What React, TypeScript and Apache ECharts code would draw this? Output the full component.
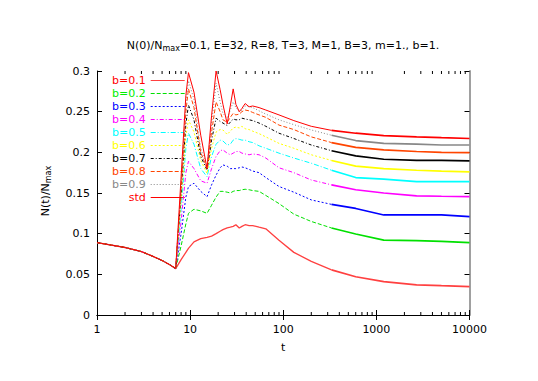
import React, { useEffect, useRef } from "react";
import * as echarts from "echarts";

const T = [1, 2, 3, 4, 5, 6, 7, 8, 9, 9.6, 11, 13, 15.2, 17, 19, 21, 22.5, 25, 27, 29, 31, 33.7, 36, 39, 43, 47, 55, 65, 90, 130, 200, 330, 600, 1200, 2700, 5000, 10000];

const B01 = [0.089, 0.083, 0.078, 0.072, 0.067, 0.062, 0.057, 0.068, 0.077, 0.082, 0.09, 0.094, 0.0955, 0.097, 0.1, 0.103, 0.105, 0.107, 0.108, 0.109, 0.111, 0.107, 0.109, 0.111, 0.11, 0.11, 0.108, 0.106, 0.092, 0.077, 0.066, 0.0555, 0.047, 0.041, 0.037, 0.036, 0.035];
const B02 = [0.089, 0.083, 0.078, 0.072, 0.067, 0.062, 0.057, 0.085, 0.112, 0.125, 0.13, 0.128, 0.125, 0.135, 0.145, 0.152, 0.152, 0.151, 0.15, 0.152, 0.153, 0.153, 0.154, 0.1546, 0.154, 0.153, 0.152, 0.147, 0.137, 0.124, 0.115, 0.107, 0.0996, 0.092, 0.0914, 0.0905, 0.089];
const B03 = [0.089, 0.083, 0.078, 0.072, 0.067, 0.062, 0.057, 0.1, 0.145, 0.158, 0.162, 0.152, 0.1455, 0.16, 0.172, 0.181, 0.1845, 0.183, 0.18, 0.18, 0.18, 0.181, 0.182, 0.181, 0.179, 0.177, 0.175, 0.169, 0.158, 0.151, 0.1415, 0.136, 0.131, 0.123, 0.123, 0.123, 0.121];
const B04 = [0.089, 0.083, 0.078, 0.072, 0.067, 0.062, 0.057, 0.115, 0.175, 0.189, 0.18, 0.165, 0.162, 0.18, 0.195, 0.202, 0.203, 0.199, 0.197, 0.199, 0.201, 0.201, 0.199, 0.198, 0.197, 0.198, 0.197, 0.193, 0.181, 0.175, 0.166, 0.16, 0.154, 0.15, 0.1465, 0.146, 0.1455];
const B05 = [0.089, 0.083, 0.078, 0.072, 0.067, 0.062, 0.057, 0.13, 0.205, 0.2235, 0.21, 0.18, 0.17, 0.195, 0.21, 0.215, 0.214, 0.209, 0.21, 0.215, 0.217, 0.216, 0.215, 0.215, 0.213, 0.212, 0.208, 0.205, 0.199, 0.193, 0.1866, 0.178, 0.169, 0.167, 0.164, 0.164, 0.164];
const B06 = [0.089, 0.083, 0.078, 0.072, 0.067, 0.062, 0.057, 0.14, 0.22, 0.24, 0.225, 0.19, 0.174, 0.205, 0.225, 0.228, 0.2275, 0.222, 0.226, 0.23, 0.231, 0.23, 0.232, 0.229, 0.228, 0.226, 0.223, 0.219, 0.211, 0.205, 0.197, 0.19, 0.183, 0.18, 0.178, 0.177, 0.176];
const B07 = [0.089, 0.083, 0.078, 0.072, 0.067, 0.062, 0.057, 0.15, 0.235, 0.258, 0.24, 0.195, 0.178, 0.215, 0.242, 0.238, 0.236, 0.233, 0.237, 0.241, 0.24, 0.24, 0.242, 0.241, 0.24, 0.239, 0.236, 0.232, 0.2235, 0.217, 0.209, 0.202, 0.1956, 0.1915, 0.19, 0.19, 0.1895];
const B08 = [0.089, 0.083, 0.078, 0.072, 0.067, 0.062, 0.057, 0.155, 0.25, 0.278, 0.255, 0.2, 0.18, 0.225, 0.262, 0.25, 0.24, 0.237, 0.243, 0.248, 0.246, 0.247, 0.25, 0.252, 0.251, 0.249, 0.246, 0.243, 0.2335, 0.228, 0.219, 0.212, 0.206, 0.203, 0.201, 0.2, 0.1996];
const B09 = [0.089, 0.083, 0.078, 0.072, 0.067, 0.062, 0.057, 0.16, 0.26, 0.288, 0.265, 0.205, 0.182, 0.235, 0.285, 0.262, 0.248, 0.242, 0.252, 0.262, 0.255, 0.25, 0.252, 0.257, 0.256, 0.255, 0.251, 0.247, 0.24, 0.234, 0.2275, 0.221, 0.2145, 0.211, 0.21, 0.209, 0.209];
const STD = [0.089, 0.083, 0.078, 0.072, 0.067, 0.062, 0.057, 0.17, 0.27, 0.298, 0.274, 0.221, 0.18, 0.245, 0.3, 0.277, 0.259, 0.235, 0.257, 0.278, 0.259, 0.25, 0.254, 0.26, 0.256, 0.257, 0.255, 0.252, 0.246, 0.239, 0.232, 0.227, 0.2235, 0.2205, 0.219, 0.218, 0.217];

const NAMES = ["b=0.1", "b=0.2", "b=0.3", "b=0.4", "b=0.5", "b=0.6", "b=0.7", "b=0.8", "b=0.9", "std"];
const VALUES = [B01, B02, B03, B04, B05, B06, B07, B08, B09, STD];
const X_TICKS_MINOR = [2, 3, 4, 5, 6, 7, 8, 9, 20, 30, 40, 50, 60, 70, 80, 90, 200, 300, 400, 500, 600, 700, 800, 900, 2000, 3000, 4000, 5000, 6000, 7000, 8000, 9000];
const TITLE_MAIN = "N(0)/N";
const TITLE_SUB = "max";
const TITLE_REST = "=0.1, E=32, R=8, T=3, M=1, B=3, m=1., b=1.";

const COLORS = ["#ff4040", "#00e000", "#0000ff", "#ff00ff", "#00ffff", "#ffff00", "#000000", "#ff4500", "#888888", "#ff0000"];
const TEXT_COLORS = ["#ff0000", "#00ee00", "#0000ff", "#ff00ff", "#00ffff", "#ffff00", "#000000", "#ff4500", "#888888", "#ff0000"];
const DASHES: any[] = ["solid", [4, 2], [2, 2], [4, 2, 1, 2], [5, 2, 1, 2], [2, 2], [3, 2, 1, 2], [4, 2], [1, 2], "solid"];
const WIDTHS = [1.3, 1, 1, 1, 1, 1, 1, 1, 1, 1];

const FONT = "DejaVu Sans";

export default function App() {
  const ref = useRef<HTMLDivElement>(null);
  useEffect(() => {
    document.body.style.margin = "0";
    const chart = echarts.init(ref.current!, null, { renderer: "svg" });
    const split = T.indexOf(330);
    const series: any[] = [];
    NAMES.forEach((name, i) => {
      const pts = T.map((t, j) => [t, VALUES[i][j]]);
      series.push({
        name,
        type: "line",
        data: pts.slice(0, split + 1),
        symbol: "none",
        xAxisIndex: 0,
        yAxisIndex: 0,
        lineStyle: { color: COLORS[i], width: WIDTHS[i], type: DASHES[i] },
        itemStyle: { color: COLORS[i] },
        z: 2 + i,
      });
      series.push({
        name,
        type: "line",
        data: pts.slice(split),
        symbol: "none",
        xAxisIndex: 0,
        yAxisIndex: 0,
        lineStyle: { color: COLORS[i], width: 1.7, type: "solid" },
        itemStyle: { color: COLORS[i] },
        z: 2 + i,
      });
    });
    series.push({
      type: "custom",
      name: "minorTicks",
      xAxisIndex: 0,
      yAxisIndex: 0,
      silent: true,
      data: X_TICKS_MINOR.map((t) => [t, 0]),
      encode: { x: 0, y: 1 },
      renderItem: (params: any, api: any) => {
        const x = api.coord([api.value(0), 0])[0];
        const yb = api.coord([1, 0])[1];
        const yt = api.coord([1, 0.3])[1];
        return {
          type: "group",
          children: [
            { type: "line", shape: { x1: x, y1: yb, x2: x, y2: yb - 3 }, style: { stroke: "#000", lineWidth: 1 } },
            { type: "line", shape: { x1: x, y1: yt, x2: x, y2: yt + 3 }, style: { stroke: "#000", lineWidth: 1 } },
          ],
        };
      },
      z: 20,
    });

    const axisLabel = { fontFamily: FONT, fontSize: 11, color: "#000" };
    chart.setOption({
      animation: false,
      backgroundColor: "#fff",
      grid: { left: 97, right: 68.5, top: 71, bottom: 66, containLabel: false },
      graphic: [
        {
          type: "text",
          x: 283,
          y: 45,
          style: {
            text: `{a|${TITLE_MAIN}}{b|${TITLE_SUB}}{a|${TITLE_REST}}`,
            align: "center",
            verticalAlign: "middle",
            rich: {
              a: { fontFamily: FONT, fontSize: 11, fill: "#000", lineHeight: 14 },
              b: { fontFamily: FONT, fontSize: 8, fill: "#000", lineHeight: 14, padding: [6, 0, 0, 0] },
            },
          },
        },
        {
          type: "text",
          x: 45,
          y: 191,
          rotation: Math.PI / 2,
          style: {
            text: `{a|N(t)/N}{b|max}`,
            align: "center",
            verticalAlign: "middle",
            rich: {
              a: { fontFamily: FONT, fontSize: 11, fill: "#000", lineHeight: 14 },
              b: { fontFamily: FONT, fontSize: 8, fill: "#000", lineHeight: 14, padding: [6, 0, 0, 0] },
            },
          },
        },
      ],
      legend: {
        orient: "vertical",
        align: "right",
        left: 112,
        top: 75,
        padding: 0,
        itemWidth: 34,
        itemHeight: 9,
        itemGap: 2,
        itemStyle: { opacity: 0 },
        lineStyle: { width: 1 },
        textStyle: { fontFamily: FONT, fontSize: 11, lineHeight: 10 },
        data: NAMES.map((n, i) => ({ name: n, textStyle: { color: TEXT_COLORS[i] } })),
        selectedMode: false,
      },
      xAxis: [
        {
          type: "log",
          logBase: 10,
          min: 1,
          max: 10000,
          position: "bottom",
          name: "t",
          nameLocation: "middle",
          nameGap: 27,
          nameTextStyle: { fontFamily: FONT, fontSize: 11, color: "#000" },
          axisLine: { show: true, lineStyle: { color: "#000", width: 1 } },
          axisTick: { show: true, inside: true, length: 5, lineStyle: { color: "#000" } },
          axisLabel: { ...axisLabel, margin: 9, formatter: (v: number) => String(Math.round(v)) },
          splitLine: { show: false },
          minorTick: { show: false },
        },
        {
          type: "log",
          logBase: 10,
          min: 1,
          max: 10000,
          position: "top",
          axisLine: { show: true, lineStyle: { color: "#000", width: 1 } },
          axisTick: { show: true, inside: true, length: 5, lineStyle: { color: "#000" } },
          axisLabel: { show: false },
          splitLine: { show: false },
        },
      ],
      yAxis: [
        {
          type: "value",
          min: 0,
          max: 0.3,
          interval: 0.05,
          position: "left",
          axisLine: { show: true, lineStyle: { color: "#000", width: 1 } },
          axisTick: { show: true, inside: true, length: 5, lineStyle: { color: "#000" } },
          axisLabel: { ...axisLabel, margin: 7 },
          splitLine: { show: false },
        },
        {
          type: "value",
          min: 0,
          max: 0.3,
          interval: 0.05,
          position: "right",
          axisLine: { show: true, lineStyle: { color: "#a0a0a0", width: 2 } },
          axisTick: { show: true, inside: true, length: 5, lineStyle: { color: "#000" } },
          axisLabel: { show: false },
          splitLine: { show: false },
        },
      ],
      series,
    });
    return () => chart.dispose();
  }, []);
  return <div ref={ref} style={{ position: "absolute", left: 0, top: 0, width: 538, height: 381 }} />;
}
